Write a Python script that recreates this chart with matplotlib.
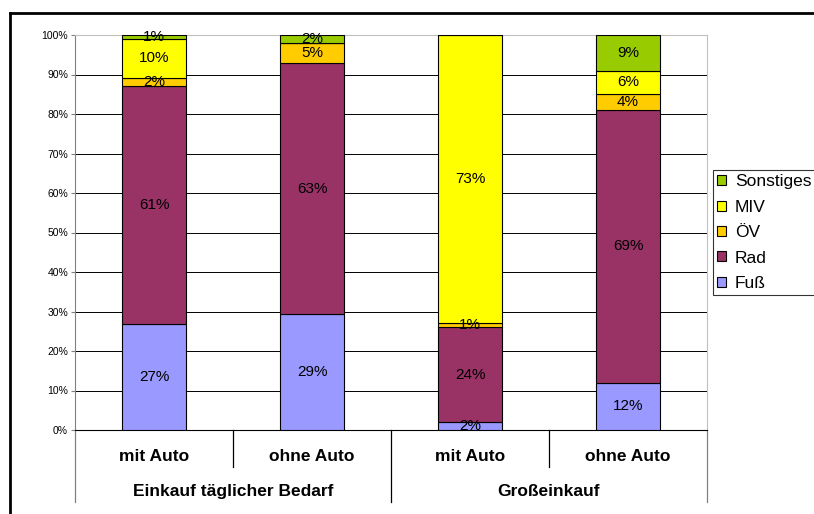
import matplotlib.pyplot as plt
import numpy as np
from matplotlib.lines import Line2D

plt.rcParams['font.family'] = ['Liberation Sans', 'DejaVu Sans']

# data (raw percentages, the chart is 100% stacked)
sub_labels = ['mit Auto', 'ohne Auto', 'mit Auto', 'ohne Auto']
group_labels = ['Einkauf täglicher Bedarf', 'Großeinkauf']
modes = ['Fuß', 'Rad', 'ÖV', 'MIV', 'Sonstiges']
fuss = [27, 29, 2, 12]
rad = [61, 63, 24, 69]
oev = [2, 5, 1, 4]
miv = [10, 0, 73, 6]
sonstiges = [1, 2, 0, 9]
colors = ['#9999FF', '#993366', '#FFCC00', '#FFFF00', '#99CC00']

raw = np.array([fuss, rad, oev, miv, sonstiges], dtype=float)
share = raw / raw.sum(axis=0) * 100

fig = plt.figure(figsize=(8.14, 5.14), dpi=100)
ax = fig.add_axes([75 / 814, 1 - 430 / 514, 632 / 814, 395 / 514])

x = np.arange(len(sub_labels)) + 0.5
bottom = np.zeros(len(x))
for i, m in enumerate(modes):
    ax.bar(x, share[i], 0.4, bottom=bottom, color=colors[i], edgecolor='black',
           linewidth=0.8, label=m, zorder=3)
    for j in range(len(x)):
        if raw[i, j] > 0:
            ax.text(x[j], bottom[j] + share[i, j] / 2, f'{raw[i, j]:.0f}%',
                    ha='center', va='center', fontsize=11, zorder=4)
    bottom += share[i]

ax.set_xlim(0, 4)
ax.set_ylim(0, 100)
ax.set_yticks(np.arange(0, 101, 10))
ax.set_yticklabels([f'{v}%' for v in range(0, 101, 10)], fontsize=7.5)
ax.yaxis.grid(True, color='black', linewidth=0.7, zorder=0)
ax.set_xticks([])
ax.tick_params(axis='y', length=3, color='#808080', pad=2)
ax.spines['top'].set_color('#C0C0C0')
ax.spines['right'].set_color('#C0C0C0')
ax.spines['left'].set_color('#808080')
ax.spines['bottom'].set_color('black')

# category axis below the plot
trans = ax.get_xaxis_transform()
for k in range(5):
    depth = -0.182 if k % 2 == 0 else -0.094
    col = '#808080' if k in (0, 4) else 'black'
    ax.add_line(Line2D([k, k], [0, depth], transform=trans, color=col,
                       linewidth=0.9, clip_on=False))
for j, lab in enumerate(sub_labels):
    ax.text(x[j], -0.066, lab, transform=trans, ha='center', va='center',
            fontsize=12.5, fontweight='bold')
for g, lab in enumerate(group_labels):
    ax.text(2 * g + 1, -0.156, lab, transform=trans, ha='center', va='center',
            fontsize=12.5, fontweight='bold')

h, l = ax.get_legend_handles_labels()
leg = fig.legend(h[::-1], l[::-1], loc='upper left',
                 bbox_to_anchor=(713 / 814, 1 - 170 / 514), fontsize=12.5,
                 frameon=True, fancybox=False, handlelength=0.5,
                 handleheight=0.5, handletextpad=0.5, labelspacing=0.6,
                 borderpad=0.25, borderaxespad=0)
leg.get_frame().set_edgecolor('black')
leg.get_frame().set_linewidth(0.8)

# outer frame (left and top edges visible)
fig.add_artist(Line2D([10 / 814, 10 / 814], [0, 1 - 13 / 514],
                      transform=fig.transFigure, color='black', linewidth=2))
fig.add_artist(Line2D([10 / 814, 1], [1 - 13 / 514, 1 - 13 / 514],
                      transform=fig.transFigure, color='black', linewidth=2))

fig.savefig('out.png', dpi=100)
